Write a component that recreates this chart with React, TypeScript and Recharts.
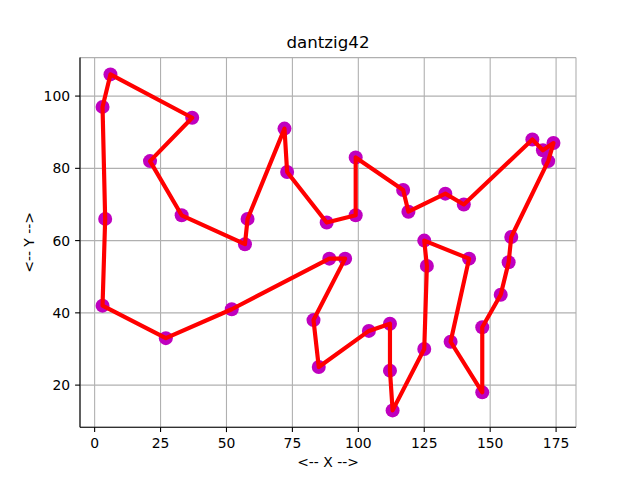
import React from 'react';
import { ScatterChart, Scatter, XAxis, YAxis, CartesianGrid } from 'recharts';

// Tour order of the 42 cities (dantzig42)
const cityX = [6, 3, 4, 3, 27, 52, 89, 95, 83, 85, 104, 112, 112, 113, 125, 126, 125, 142, 135, 147, 147, 154, 157, 158, 172, 174, 170, 166, 140, 133, 119, 117, 99, 99, 88, 73, 72, 58, 57, 33, 21, 37];
const cityY = [106, 97, 66, 42, 33, 41, 55, 55, 38, 25, 35, 37, 24, 13, 30, 53, 60, 55, 32, 18, 36, 45, 54, 61, 82, 87, 85, 88, 70, 73, 68, 74, 83, 67, 65, 79, 91, 66, 59, 67, 82, 94];

const xTicks = [0, 25, 50, 75, 100, 125, 150, 175];
const yTicks = [20, 40, 60, 80, 100];

const title = 'dantzig42';
const xLabel = '<-- X -->';
const yLabel = '<-- Y -->';

const cities = cityX.map((x, i) => ({ x, y: cityY[i] }));
const tour = [...cities, cities[0]];

const FONT = 'DejaVu Sans, sans-serif';

const xMinD = Math.min(...cityX);
const xMaxD = Math.max(...cityX);
const yMinD = Math.min(...cityY);
const yMaxD = Math.max(...cityY);
const xPad = (xMaxD - xMinD) * 0.05;
const yPad = (yMaxD - yMinD) * 0.05;
const xDomain: [number, number] = [xMinD - xPad, xMaxD + xPad];
const yDomain: [number, number] = [yMinD - yPad, yMaxD + yPad];

const tickStyle = { fill: '#000', fontSize: 13.9, fontFamily: FONT };

const Dot = (props: any) => {
  const { cx, cy } = props;
  if (cx == null || cy == null) return <g />;
  return <circle cx={cx} cy={cy} r={7} fill="#bf00bf" />;
};

const NoShape = () => <g />;

export default function App() {
  return (
    <div style={{ position: 'absolute', left: 0, top: 0, width: 640, height: 480, background: '#fff' }}>
      <ScatterChart
        width={640}
        height={480}
        margin={{ top: 57.6, right: 64, bottom: 0, left: 0 }}
      >
        <CartesianGrid stroke="#b0b0b0" strokeWidth={1.1} />
        <XAxis
          xAxisId={0}
          type="number"
          dataKey="x"
          domain={xDomain}
          ticks={xTicks}
          allowDataOverflow
          height={52.8}
          tick={tickStyle}
          tickSize={4.9}
          tickMargin={6}
          axisLine={{ stroke: '#000', strokeWidth: 1.1 }}
          tickLine={{ stroke: '#000', strokeWidth: 1.1 }}
        />
        <XAxis
          xAxisId="top"
          orientation="top"
          type="number"
          domain={xDomain}
          allowDataOverflow
          height={0}
          tick={false}
          tickLine={false}
          axisLine={{ stroke: '#000', strokeWidth: 1.1 }}
        />
        <YAxis
          yAxisId={0}
          type="number"
          dataKey="y"
          domain={yDomain}
          ticks={yTicks}
          allowDataOverflow
          width={80}
          tick={tickStyle}
          tickSize={4.9}
          tickMargin={5}
          axisLine={{ stroke: '#000', strokeWidth: 1.1 }}
          tickLine={{ stroke: '#000', strokeWidth: 1.1 }}
        />
        <YAxis
          yAxisId="right"
          orientation="right"
          type="number"
          domain={yDomain}
          allowDataOverflow
          width={0}
          tick={false}
          tickLine={false}
          axisLine={{ stroke: '#000', strokeWidth: 1.1 }}
        />
        <Scatter
          data={cities}
          xAxisId={0}
          yAxisId={0}
          shape={Dot}
          isAnimationActive={false}
        />
        <Scatter
          data={tour}
          xAxisId={0}
          yAxisId={0}
          shape={NoShape}
          line={{ stroke: '#ff0000', strokeWidth: 4.17, strokeLinejoin: 'round', strokeLinecap: 'round' }}
          lineType="joint"
          isAnimationActive={false}
        />
      </ScatterChart>
      <svg
        width={640}
        height={480}
        style={{ position: 'absolute', left: 0, top: 0, pointerEvents: 'none' }}
      >
        <text x={328} y={47.7} textAnchor="middle" fontSize={16.67} fontFamily={FONT} fill="#000">
          {title}
        </text>
        <text x={328} y={466.5} textAnchor="middle" fontSize={13.9} fontFamily={FONT} fill="#000">
          {xLabel}
        </text>
        <text
          x={34}
          y={242.4}
          textAnchor="middle"
          fontSize={13.9}
          fontFamily={FONT}
          fill="#000"
          transform="rotate(-90 34 242.4)"
        >
          {yLabel}
        </text>
      </svg>
    </div>
  );
}
